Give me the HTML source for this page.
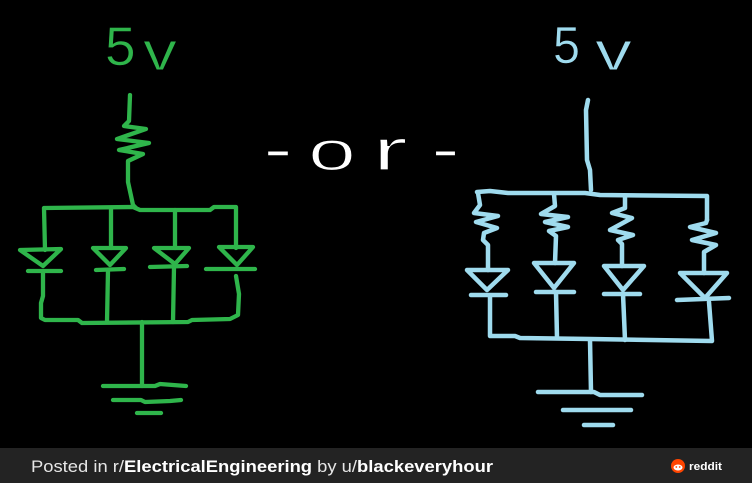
<!DOCTYPE html>
<html><head><meta charset="utf-8"><style>
html,body{margin:0;padding:0;background:#000;}
svg{display:block;}
</style></head><body>
<svg width="752" height="483" viewBox="0 0 752 483" xmlns="http://www.w3.org/2000/svg">
<rect width="752" height="483" fill="#000"/>
<!-- GREEN CIRCUIT -->
<g fill="none" stroke="#2fb54b" stroke-width="4.3" stroke-linecap="round" stroke-linejoin="round">
  <path d="M130,95 L129,121 L124,126 L146,129 L117,139 L149,143 L119,150 L143,154 L128,161 L128,182 L133,205 L136,208"/>
  <path d="M45,250 L44,208 L133,207 L140,210 L210,210 L214,207 L236,207 L236,248"/>
  <path d="M111,208 L111,248"/>
  <path d="M175,210 L175,248"/>
  <path d="M20,250 L61,249 L43,266 Z"/>
  <path d="M28,271 L61,271"/>
  <path d="M93,248 L126,248 L110,265 Z"/>
  <path d="M96,270 L124,269"/>
  <path d="M154,248 L189,248 L175,264 Z"/>
  <path d="M150,267 L187,266"/>
  <path d="M219,247 L253,247 L237,265 Z"/>
  <path d="M206,269 L255,269"/>
  <path d="M43,271 L43,296 L41,303 L41,318 L45,320 L78,320 L82,323 L188,322 L192,320 L230,319 L238,315 L239,294 L236,276"/>
  <path d="M108,270 L107,322"/>
  <path d="M174,267 L173,322"/>
  <path d="M142,322 L142,386"/>
  <path d="M103,386 L155,386 L160,384 L186,386"/>
  <path d="M113,400 L141,400 L145,402 L170,401 L181,400"/>
  <path d="M137,413 L161,413"/>
</g>
<text x="105" y="65" font-family="Liberation Sans, sans-serif" font-size="55" fill="#2fb54b" stroke="#000" stroke-width="0.6">5</text>
<text x="143" y="70" font-family="Liberation Sans, sans-serif" font-size="55" fill="#2fb54b" stroke="#000" stroke-width="1" textLength="34" lengthAdjust="spacingAndGlyphs">v</text>

<!-- OR -->
<g font-family="Liberation Sans, sans-serif" fill="#fff" stroke="#000">
  <text x="264" y="168" font-size="55" stroke-width="0.6" textLength="28" lengthAdjust="spacingAndGlyphs">-</text>
  <text x="308" y="170" font-size="56" stroke-width="1.3" textLength="48" lengthAdjust="spacingAndGlyphs">o</text>
  <text x="372" y="170" font-size="58" stroke-width="1.3" textLength="36" lengthAdjust="spacingAndGlyphs">r</text>
  <text x="432" y="168" font-size="55" stroke-width="0.6" textLength="27" lengthAdjust="spacingAndGlyphs">-</text>
</g>

<!-- BLUE CIRCUIT -->
<g fill="none" stroke="#9fdbee" stroke-width="4.5" stroke-linecap="round" stroke-linejoin="round">
  <path d="M588,100 L586,110 L587,160 L590,170 L591,190"/>
  <path d="M477,192 L490,191 L508,193 L585,193 L600,195 L707,196 L707,220"/>
  <path d="M478,193 L480,205 L474,213 L498,216 L476,222 L497,228 L484,233 L483,240 L488,245 L488,270"/>
  <path d="M467,270 L508,270 L487,290 Z"/>
  <path d="M471,295 L506,295"/>
  <path d="M490,296 L490,336 L515,336 L520,338 L590,339 L712,341 L709,302"/>
  <path d="M554,194 L555,206 L541,214 L568,217 L545,222 L568,227 L549,231 L556,236 L555,263"/>
  <path d="M534,263 L574,263 L554,288 Z"/>
  <path d="M536,292 L574,292"/>
  <path d="M556,292 L557,338"/>
  <path d="M625,196 L625,208 L612,213 L632,218 L610,230 L633,235 L618,240 L622,244 L622,266"/>
  <path d="M604,266 L644,266 L623,290 Z"/>
  <path d="M604,294 L640,294"/>
  <path d="M623,294 L625,340"/>
  <path d="M707,220 L706,223 L690,227 L716,233 L692,240 L716,245 L704,252 L704,273"/>
  <path d="M680,273 L727,273 L705,298 Z"/>
  <path d="M677,300 L729,298"/>
  <path d="M590,340 L591,392"/>
  <path d="M538,392 L594,392 L600,395 L642,395"/>
  <path d="M563,410 L631,410"/>
  <path d="M584,425 L613,425"/>
</g>
<text x="553" y="63" font-family="Liberation Sans, sans-serif" font-size="52" fill="#9fdbee" stroke="#000" stroke-width="0.6" textLength="27" lengthAdjust="spacingAndGlyphs">5</text>
<text x="595" y="70" font-family="Liberation Sans, sans-serif" font-size="55" fill="#9fdbee" stroke="#000" stroke-width="1" textLength="37" lengthAdjust="spacingAndGlyphs">v</text>

<!-- FOOTER -->
<rect x="0" y="448" width="752" height="35" fill="#232323"/>
<text x="31" y="472" font-family="Liberation Sans, sans-serif" font-size="17" fill="#e6e6e6" textLength="462" lengthAdjust="spacingAndGlyphs">Posted in r/<tspan font-weight="bold" fill="#fff">ElectricalEngineering</tspan> by u/<tspan font-weight="bold" fill="#fff">blackeveryhour</tspan></text>
<circle cx="678" cy="466" r="7" fill="#ff4500"/>
<ellipse cx="678" cy="467.5" rx="4.5" ry="3" fill="#fff"/>
<circle cx="676.3" cy="467" r="0.9" fill="#ff4500"/>
<circle cx="679.7" cy="467" r="0.9" fill="#ff4500"/>
<text x="689" y="470" font-family="Liberation Sans, sans-serif" font-size="11" font-weight="bold" fill="#fff" textLength="33" lengthAdjust="spacingAndGlyphs">reddit</text>
</svg>
</body></html>
